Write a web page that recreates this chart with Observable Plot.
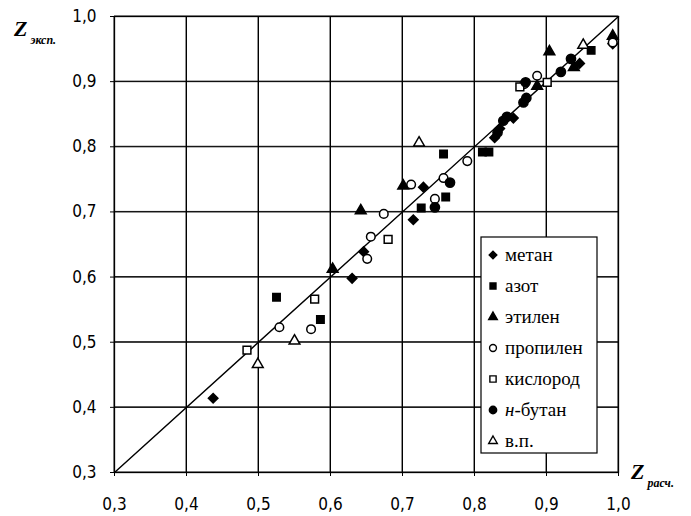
<!DOCTYPE html>
<html>
<head>
<meta charset="utf-8">
<script src="https://cdn.jsdelivr.net/npm/d3@7"></script>
<script src="https://cdn.jsdelivr.net/npm/@observablehq/plot@0.6"></script>
<style>
  html, body { margin: 0; padding: 0; background: #fff; }
  #chart { position: relative; width: 691px; height: 516px; }
</style>
</head>
<body>
<div id="chart"></div>
<script>
// ---- data ----
const seriesNames = ["метан", "азот", "этилен", "пропилен", "кислород", "н-бутан", "в.п."];
const xTicks = [0.3, 0.4, 0.5, 0.6, 0.7, 0.8, 0.9, 1.0];
const yTicks = [0.3, 0.4, 0.5, 0.6, 0.7, 0.8, 0.9, 1.0];
const xDomain = [0.3, 1.0];
const yDomain = [0.3, 1.0];

const metan = [[0.437,0.414],[0.630,0.598],[0.646,0.639],[0.715,0.688],[0.729,0.738],[0.828,0.814],[0.835,0.828],[0.854,0.844],[0.946,0.928],[0.992,0.958]];
const azot = [[0.525,0.569],[0.586,0.535],[0.726,0.706],[0.760,0.723],[0.757,0.789],[0.811,0.792],[0.820,0.792],[0.962,0.948]];
const etilen = [[0.603,0.612],[0.642,0.702],[0.701,0.740],[0.887,0.893],[0.904,0.946],[0.938,0.922],[0.992,0.970]];
const propilen = [[0.529,0.523],[0.573,0.520],[0.651,0.628],[0.656,0.662],[0.674,0.697],[0.712,0.742],[0.745,0.720],[0.757,0.752],[0.790,0.778],[0.869,0.896],[0.887,0.909],[0.992,0.960]];
const kislorod = [[0.484,0.488],[0.578,0.566],[0.680,0.658],[0.863,0.892],[0.901,0.899]];
const nbutan = [[0.745,0.707],[0.766,0.745],[0.832,0.822],[0.840,0.840],[0.845,0.846],[0.868,0.868],[0.872,0.875],[0.871,0.899],[0.920,0.915],[0.934,0.935]];
const vp = [[0.499,0.466],[0.550,0.502],[0.723,0.806],[0.951,0.956]];

const seriesData = [metan, azot, etilen, propilen, kislorod, nbutan, vp];
// marker styles per series
const styles = [
  {symbol: "diamond2", fill: "#000", r: 4.3},
  {symbol: "square",   fill: "#000", r: 4.2},
  {symbol: "triangle", fill: "#000", r: 4.0},
  {symbol: "circle",   fill: "#fff", r: 4.3},
  {symbol: "square",   fill: "#fff", r: 4.4},
  {symbol: "circle",   fill: "#000", r: 4.6},
  {symbol: "triangle", fill: "#fff", r: 4.0}
];

const fmt = d => d.toFixed(1).replace(".", ",");
const tickFont = "'Liberation Sans Narrow', 'DejaVu Sans Condensed', 'Roboto', sans-serif";

const dotMarks = seriesData.map((data, i) => Plot.dot(data, {
  x: d => d[0], y: d => d[1],
  symbol: () => styles[i].symbol,
  r: styles[i].r,
  fill: styles[i].fill,
  stroke: "#000",
  strokeWidth: 1.5
}));

const plot = Plot.plot({
  width: 691,
  height: 516,
  marginLeft: 114,
  marginRight: 73,
  marginTop: 16,
  marginBottom: 44,
  style: {fontFamily: tickFont, fontSize: "16px", background: "#fff"},
  x: {domain: xDomain, label: null},
  y: {domain: yDomain, label: null},
  symbol: {type: "identity"},
  marks: [
    Plot.ruleX(xTicks, {x: d => d, stroke: "black", strokeWidth: 1}),
    Plot.ruleY(yTicks, {y: d => d, stroke: "black", strokeWidth: 1}),
    Plot.line(xDomain, {x: d => d, y: d => d, stroke: "#000", strokeWidth: 1.4}),
    ...dotMarks,
    Plot.frame({stroke: "#000", strokeWidth: 1.3}),
    Plot.axisX(xTicks, {tickFormat: fmt, tickSize: 4, tickPadding: 21, fontSize: 17, stroke: "black"}),
    Plot.axisY(yTicks, {tickFormat: fmt, tickSize: 4, tickPadding: 14, fontSize: 17, stroke: "black"})
  ]
});

document.getElementById("chart").appendChild(plot);

// ---- grid lines placed with the plot's own scales (under the marks) ----
const svg = d3.select(plot);
const sx = plot.scale("x"), sy = plot.scale("y");
const grid = svg.insert("g", ":first-child").attr("stroke", "#222").attr("stroke-width", 1);
xTicks.forEach(t => grid.append("line")
  .attr("x1", sx.apply(t)).attr("x2", sx.apply(t))
  .attr("y1", sy.apply(yDomain[0])).attr("y2", sy.apply(yDomain[1])));
yTicks.forEach(t => grid.append("line")
  .attr("y1", sy.apply(t)).attr("y2", sy.apply(t))
  .attr("x1", sx.apply(xDomain[0])).attr("x2", sx.apply(xDomain[1])));

// ---- axis titles and legend drawn into the same SVG ----
const serif = "'Liberation Serif', 'DejaVu Serif', serif";

function zTitle(x, y, sub) {
  const t = svg.append("text").attr("x", x).attr("y", y)
    .style("text-anchor", "start")
    .style("font-family", serif).attr("fill", "#000");
  t.append("tspan").style("font-size", "22px").style("font-weight", "bold").style("font-style", "italic").text("Z");
  t.append("tspan").style("font-size", "12px").style("font-style", "italic").style("font-weight", "bold").attr("dx", 3).attr("dy", 8).text(sub);
}
zTitle(14, 36, "эксп.");
zTitle(631, 479, "расч.");

// legend
const lg = svg.append("g").attr("transform", "translate(481,237)");
lg.append("rect").attr("width", 116).attr("height", 216)
  .attr("fill", "#fff").attr("stroke", "#000").attr("stroke-width", 1.2);
const symMap = {diamond2: d3.symbolDiamond2, square: d3.symbolSquare, triangle: d3.symbolTriangle, circle: d3.symbolCircle};
seriesNames.forEach((name, i) => {
  const cy = 18 + i * 31;
  const s = styles[i];
  const r = s.r * 0.8;
  lg.append("path")
    .attr("d", d3.symbol(symMap[s.symbol], Math.PI * r * r)())
    .attr("transform", `translate(12,${cy})`)
    .attr("fill", s.fill).attr("stroke", "#000").attr("stroke-width", 1.4);
  const t = lg.append("text").attr("x", 24).attr("y", cy + 6)
    .style("text-anchor", "start")
    .style("font-family", serif).style("font-size", "19px").attr("fill", "#000");
  if (name.startsWith("н-")) {
    t.append("tspan").style("font-style", "italic").text("н");
    t.append("tspan").text(name.slice(1));
  } else {
    t.text(name);
  }
});
</script>
</body>
</html>
